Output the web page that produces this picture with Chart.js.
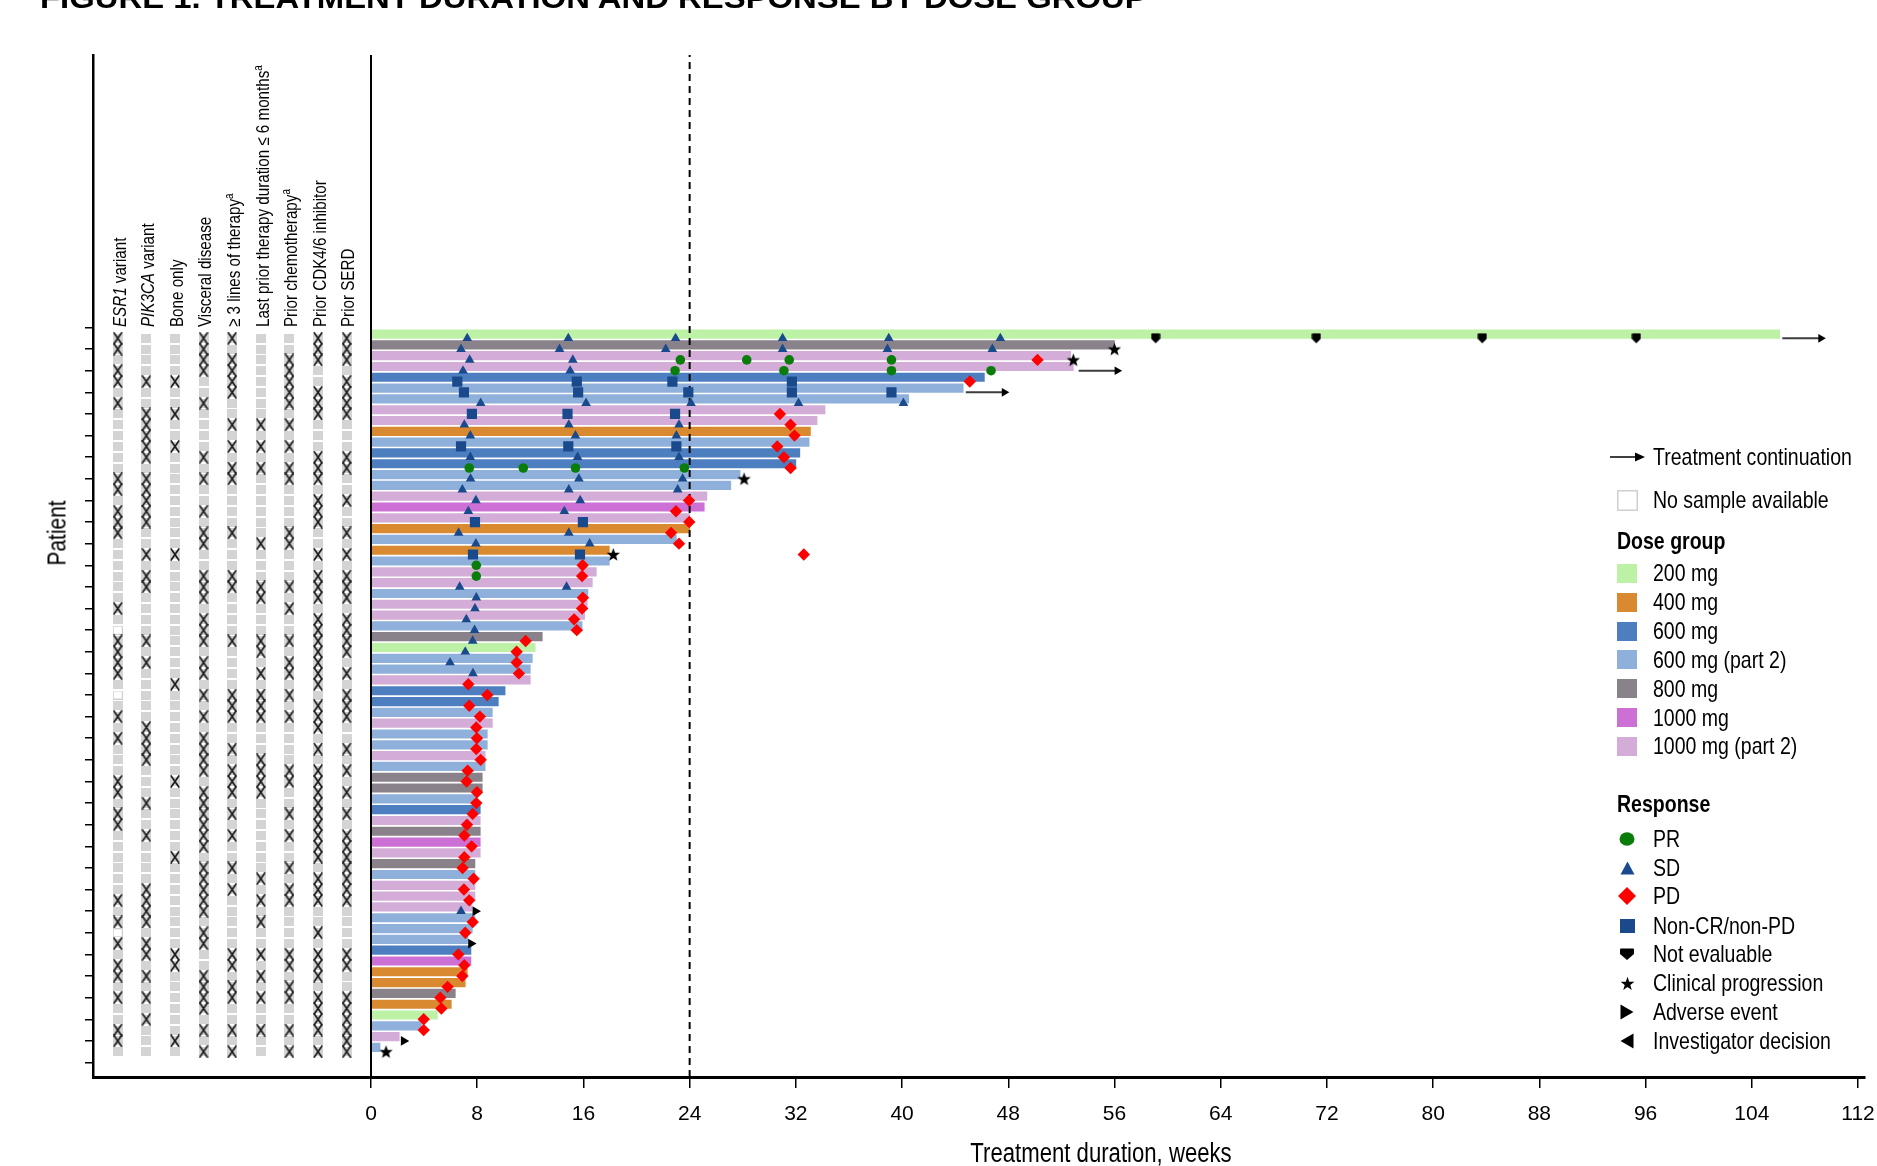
<!DOCTYPE html>
<html>
<head>
<meta charset="utf-8">
<script src="https://cdn.jsdelivr.net/npm/chart.js@4.4.0/dist/chart.umd.min.js"></script>
<style>
  html, body { margin: 0; padding: 0; background: #fff; }
  body { width: 1877px; height: 1166px; position: relative; overflow: hidden;
         font-family: "Liberation Sans", Arial, sans-serif; color: #000; }
  #chart { position: absolute; left: 0; top: 0; }
  .abs { position: absolute; white-space: nowrap; }
  #title { left: 40px; top: -17px; font-weight: bold; font-size: 30px; line-height: 30px; transform-origin: left top; }
  /* the figure uses a narrow face: Liberation Sans squeezed to 82 % */
  .colhead { font-size: 18.5px; line-height: 20px; transform: rotate(-90deg) scaleX(0.82); transform-origin: left top; }
  .colhead sup { font-size: 12px; vertical-align: 7px; line-height: 0; }
  .leg { font-size: 23.8px; line-height: 28px; transform: scaleX(0.82); transform-origin: left center; }
  #patient { left: 57px; top: 533px; font-size: 25.5px; transform: translate(-50%, -50%) rotate(-90deg) scaleX(0.82); }
  #xtitle { left: 1101px; top: 1153px; font-size: 27px; transform: translate(-50%, -50%) scaleX(0.82); }
</style>
</head>
<body>
<canvas id="chart" width="1877" height="1166"></canvas>
<div id="title" class="abs">FIGURE 1. TREATMENT DURATION AND RESPONSE BY DOSE GROUP</div>
<div id="patient" class="abs">Patient</div>
<div id="xtitle" class="abs">Treatment duration, weeks</div>
<script>
// ================= DATA =================
const doseGroups = ['200 mg', '400 mg', '600 mg', '600 mg (part 2)', '800 mg', '1000 mg', '1000 mg (part 2)'];

// dose group (index into doseGroups) per patient, top to bottom
const patientDose = [0,4,6,6,2,3,3,6,6,1, 3,2,2,3,3,6,5,6,1,3,
                     1,3,6,6,3,6,6,3,4,0, 3,3,6,2,2,3,6,3,3,6,
                     3,4,4,3,2,6,4,5,6,4, 3,6,6,6,3,3,3,2,5,1,
                     1,4,1,0,3,6,3];

// treatment duration, weeks
const durationWeeks = [106.1, 56.0, 52.7, 52.9, 46.2, 44.6, 40.5, 34.2, 33.6, 33.1,
                       33.0, 32.3, 32.0, 27.8, 27.1, 25.3, 25.1, 24.0, 24.0, 23.0,
                       17.95, 17.95, 16.97, 16.67, 16.34, 16.29, 16.09, 15.9, 12.9, 12.37,
                       12.15, 12.0, 12.0, 10.1, 9.59, 9.14, 9.14, 8.76, 8.76, 8.6,
                       8.6, 8.38, 8.38, 8.0, 8.23, 8.23, 8.23, 8.23, 8.23, 7.83,
                       7.83, 7.83, 7.83, 7.6, 7.83, 7.63, 7.3, 7.53, 7.53, 7.25,
                       7.1, 6.35, 6.05, 5.0, 3.8, 2.13, 0.68];

// treatment continuation arrows: [patient, from week, to week]
const continuation = [[0, 106.3, 109.2], [3, 53.3, 56.2], [5, 44.8, 47.7]];

// responses: [patient, week]
const prVisits = [[2,23.3],[2,28.3],[2,31.5],[2,39.2],[3,22.9],[3,31.1],[3,39.2],[3,46.7],
                  [12,7.4],[12,11.47],[12,15.4],[12,23.6],[21,7.93],[22,7.93]];
const sdVisits = [[0,7.25],[0,14.86],[0,22.94],[0,31.0],[0,39.0],[0,47.4],
                  [1,6.78],[1,14.2],[1,22.2],[1,31.0],[1,38.9],[1,46.8],
                  [2,7.43],[2,15.2],[3,6.93],[3,15.0],
                  [6,8.26],[6,16.2],[6,24.1],[6,32.2],[6,40.1],
                  [8,7.03],[8,14.9],[8,23.2],[9,7.48],[9,15.4],[9,23.0],
                  [11,7.48],[11,15.56],[11,23.2],[13,7.5],[13,15.66],[13,23.47],
                  [14,6.88],[14,14.9],[14,23.1],[15,7.9],[15,15.76],[16,7.33],[16,14.56],
                  [18,6.6],[18,14.9],[19,7.9],[19,16.47],[23,6.68],[23,14.73],
                  [24,7.93],[25,7.83],[26,7.18],[27,7.8],[28,7.66],[29,7.1],[30,5.95],[31,7.68],
                  [53,6.78]];
const pdVisits = [[2,50.2],[4,45.1],[7,30.8],[8,31.6],[9,31.9],[10,30.6],[11,31.1],[12,31.6],
                  [15,23.95],[16,22.97],[17,23.97],[18,22.6],[19,23.2],[20,32.6],
                  [21,15.94],[22,15.9],[24,15.96],[25,15.9],[26,15.3],[27,15.5],[28,11.65],[29,10.97],
                  [30,10.97],[31,11.14],[32,7.33],[33,8.76],[34,7.4],[35,8.2],[36,7.93],[37,7.98],
                  [38,7.93],[39,8.26],[40,7.28],[41,7.2],[42,7.98],[43,7.93],[44,7.66],[45,7.23],
                  [46,7.03],[47,7.58],[48,7.03],[49,6.9],[50,7.73],[51,7.0],[52,7.4],[54,7.66],
                  [55,7.1],[57,6.58],[58,7.03],[59,6.88],[60,5.77],[61,5.22],[62,5.3],[63,3.97],[64,3.97]];
const nonCrNonPdVisits = [[4,6.5],[4,15.5],[4,22.7],[4,31.7],[5,7.0],[5,15.6],[5,23.9],[5,31.7],[5,39.2],
                          [7,7.6],[7,14.8],[7,22.9],[10,6.78],[10,14.86],[10,23.0],
                          [17,7.83],[17,15.96],[20,7.68],[20,15.74]];
const notEvaluableVisits = [[0,59.1],[0,71.2],[0,83.7],[0,95.3]];
const clinicalProgression = [[1,56.0],[2,52.9],[13,28.1],[20,18.25],[66,1.13]];
const adverseEvent = [[53,7.86],[56,7.53],[65,2.46]];

// baseline characteristics: patients flagged in each column
const esr1Variant = [0,1,3,4,6,13,14,16,17,18,25,28,29,30,31,35,37,41,42,44,45,52,54,56,58,59,61,64,65];
const pik3caVariant = [4,7,8,9,10,11,13,14,15,16,17,20,22,23,28,30,36,37,38,39,43,46,51,52,53,54,56,57,59,61,63];
const boneOnly = [4,7,10,20,32,41,48,57,58,65];
const visceralDisease = [0,1,2,3,6,11,13,16,18,19,22,23,24,26,27,28,30,31,33,35,37,38,39,40,42,43,44,45,46,47,49,50,51,52,53,55,56,59,60,61,62,64,66];
const threePlusLines = [0,2,3,4,5,8,10,12,13,18,22,23,28,33,34,35,38,40,41,42,44,46,49,51,57,58,60,61,64,66];
const lastTherapy6m = [8,10,12,19,23,24,28,29,31,33,34,35,39,40,41,42,50,52,54,57,59,61,64];
const priorChemo = [2,3,4,5,6,8,10,12,13,18,19,23,25,28,30,31,33,35,40,41,44,46,49,51,52,57,58,60,61,64,66];
const priorCdk46 = [0,1,2,5,6,7,11,12,13,15,16,17,20,22,23,24,26,27,28,29,30,31,32,34,35,36,38,40,41,42,43,44,45,46,47,48,50,51,52,55,57,58,59,61,62,63,64,66];
const priorSerd = [0,1,2,4,5,6,7,11,12,15,18,20,22,23,24,26,27,28,29,31,33,34,35,38,40,42,44,46,47,48,49,50,51,52,57,58,61,62,63,64,65,66];
const esr1NoSample = [27,33,55];

const featureLabels = ['<i>ESR1</i> variant', '<i>PIK3CA</i> variant', 'Bone only', 'Visceral disease',
                       '&ge; 3 lines of therapy<sup>a</sup>', 'Last prior therapy duration &le; 6 months<sup>a</sup>',
                       'Prior chemotherapy<sup>a</sup>', 'Prior CDK4/6 inhibitor', 'Prior SERD'];

const weekTicks = [0, 8, 16, 24, 32, 40, 48, 56, 64, 72, 80, 88, 96, 104, 112];
const landmarkWeek = 24;

const responseLabels = ['PR', 'SD', 'PD', 'Non-CR/non-PD', 'Not evaluable', 'Clinical progression', 'Adverse event', 'Investigator decision'];

// ================= STYLE / LAYOUT =================
const doseColors = ['#bdf1a6', '#d98a30', '#4c7ec0', '#8fb0da', '#8a828a', '#cc70d6', '#d4acd8'];
const blue = '#1a4a8c';

// pixel anchors on the page
const WEEK0_PX = 371, WEEK112_PX = 1858;     // x of week 0 and week 112
const ROW0_PX = 338.3, ROWLAST_PX = 1051.7;  // y of first and last patient row
const COL0_PX = 117.7, COL_STEP = 28.62;     // feature columns

const nPatients = durationWeeks.length;
const features = [esr1Variant, pik3caVariant, boneOnly, visceralDisease, threePlusLines,
                  lastTherapy6m, priorChemo, priorCdk46, priorSerd];

// ------------------- POINT SHAPES -------------------
function mk(w, h, draw) {
  const c = document.createElement('canvas');
  c.width = w; c.height = h;
  draw(c.getContext('2d'), w, h);
  return c;
}
const xMark = mk(10, 13, (g, w, h) => {
  g.strokeStyle = '#1c1c1c'; g.lineWidth = 1.7; g.lineCap = 'round';
  g.beginPath(); g.moveTo(1.2, 1); g.lineTo(w - 1.2, h - 1); g.moveTo(w - 1.2, 1); g.lineTo(1.2, h - 1); g.stroke();
});
const cellGrey = mk(10, 9, g => { g.fillStyle = '#d4d4d4'; g.fillRect(0, 0, 10, 9); });
const cellEmpty = mk(10, 9, g => { g.fillStyle = '#fff'; g.fillRect(0, 0, 10, 9); g.strokeStyle = '#cfcfcf'; g.strokeRect(0.5, 0.5, 9, 8); });
function starPath(g, cx, cy, ro, ri) {
  g.beginPath();
  for (let k = 0; k < 10; k++) {
    const r = k % 2 ? ri : ro, a = -Math.PI / 2 + k * Math.PI / 5;
    g.lineTo(cx + r * Math.cos(a), cy + r * Math.sin(a));
  }
  g.closePath();
}
const starImg = mk(15, 15, g => { g.fillStyle = '#000'; starPath(g, 7.5, 8, 7, 2.9); g.fill(); });
const shieldImg = mk(10, 11, g => {
  g.fillStyle = '#000'; g.beginPath();
  g.moveTo(0.5, 1.5); g.quadraticCurveTo(0.5, 0.5, 1.5, 0.5); g.lineTo(8.5, 0.5); g.quadraticCurveTo(9.5, 0.5, 9.5, 1.5);
  g.lineTo(9.5, 6); g.lineTo(5, 10.5); g.lineTo(0.5, 6); g.closePath(); g.fill();
});

// ------------------- DATASETS -------------------
const pts = list => list.map(([p, w]) => ({ x: w, y: p }));
function markerSet(list, style, radius, color, extra) {
  return Object.assign({
    type: 'scatter', data: pts(list), pointStyle: style, pointRadius: radius,
    pointBackgroundColor: color, pointBorderColor: color, pointBorderWidth: 0, order: 0
  }, extra || {});
}

const cellPts = [], markPts = [], emptyPts = [];
features.forEach((rows, j) => {
  for (let p = 0; p < nPatients; p++) {
    if (j === 0 && esr1NoSample.includes(p)) emptyPts.push({ x: j, y: p });
    else cellPts.push({ x: j, y: p });
  }
  rows.forEach(p => markPts.push({ x: j, y: p }));
});

const datasets = [
  markerSet(prVisits, 'circle', 4.8, '#0a7c0a'),
  markerSet(sdVisits, 'triangle', 5.6, blue),
  markerSet(pdVisits, 'rectRot', 6.2, '#ff0000'),
  markerSet(nonCrNonPdVisits, 'rect', 7.2, blue),
  markerSet(notEvaluableVisits, shieldImg, 5, '#000'),
  markerSet(clinicalProgression, starImg, 5, '#000'),
  markerSet(adverseEvent, 'triangle', 5.6, '#000', { pointRotation: 90 }),
  { type: 'scatter', xAxisID: 'xf', data: markPts, pointStyle: xMark, pointRadius: 5, order: 0 },
  { type: 'scatter', xAxisID: 'xf', data: cellPts, pointStyle: cellGrey, pointRadius: 5, order: 6 },
  { type: 'scatter', xAxisID: 'xf', data: emptyPts, pointStyle: cellEmpty, pointRadius: 5, order: 6 },
  {
    type: 'line', data: [{ x: landmarkWeek, y: -40 }, { x: landmarkWeek, y: 80 }],
    borderColor: '#000', borderWidth: 2, borderDash: [7, 5], pointRadius: 0, order: 2, clip: 0
  },
  {
    type: 'line', data: [{ x: 0, y: -40 }, { x: 0, y: 80 }],
    borderColor: '#000', borderWidth: 2, pointRadius: 0, order: 3, clip: 0
  },
  {
    type: 'bar', indexAxis: 'y', order: 4,
    data: durationWeeks.map((d, i) => ({ x: [0, d], y: i })),
    backgroundColor: patientDose.map(g => doseColors[g]),
    barThickness: 8.5, borderWidth: 0
  }
];
continuation.forEach(([p, a, b]) => datasets.push({
  type: 'line', data: [{ x: a, y: p }, { x: b, y: p }], borderColor: '#3c3c3c', borderWidth: 2,
  pointRadius: [0, 5], pointStyle: 'triangle', pointRotation: 90,
  pointBackgroundColor: '#000', pointBorderWidth: 0, order: 1
}));

// once the plot area is known, set each scale's range so the anchors land on their pixels
const pinScales = {
  id: 'pinScales',
  afterLayout(chart) {
    const { x, xf, y } = chart.scales;
    const kx = (WEEK112_PX - WEEK0_PX) / 112;
    x.min = (x.left - WEEK0_PX) / kx;
    x.max = (x.right - WEEK0_PX) / kx;
    x.configure();
    xf.min = (xf.left - COL0_PX) / COL_STEP;
    xf.max = (xf.right - COL0_PX) / COL_STEP;
    xf.configure();
    const ky = (ROWLAST_PX - ROW0_PX) / (nPatients - 1);
    y.min = (y.top - ROW0_PX) / ky;
    y.max = (y.bottom - ROW0_PX) / ky;
    y.configure();
  }
};

// ------------------- CHART -------------------
new Chart(document.getElementById('chart'), {
  type: 'scatter',
  data: { datasets },
  plugins: [pinScales],
  options: {
    responsive: false, animation: false, events: [],
    layout: { padding: { left: 85, top: 55, right: 0, bottom: 0 } },
    plugins: { legend: { display: false }, tooltip: { enabled: false } },
    scales: {
      x: {
        type: 'linear', position: 'bottom', min: -21, max: 113.4, offset: false,
        afterBuildTicks: s => { s.ticks = weekTicks.map(v => ({ value: v })); },
        afterFit: s => { s.height = 89; },
        ticks: { font: { family: 'Liberation Sans', size: 21 }, color: '#000', padding: 14, maxRotation: 0, autoSkip: false },
        grid: { drawOnChartArea: false, drawTicks: true, tickLength: 11, color: '#000', lineWidth: 1.5 },
        border: { display: true, color: '#000', width: 3 }
      },
      xf: { type: 'linear', axis: 'x', position: 'bottom', display: false, min: -0.86, max: 61.5 },
      y: {
        type: 'linear', position: 'left', reverse: true, min: -26.2, max: 68.3, offset: false,
        afterBuildTicks: s => { s.ticks = durationWeeks.map((d, i) => ({ value: i })); },
        afterFit: s => { s.width = 8; },
        ticks: { callback: () => '', padding: 0 },
        grid: { drawOnChartArea: false, drawTicks: true, tickLength: 8, color: '#000', lineWidth: 1.5 },
        border: { display: true, color: '#000', width: 2.5 }
      }
    }
  }
});

// ------------------- TEXT OVERLAYS -------------------
function addDiv(html, cls, css) {
  const d = document.createElement('div');
  d.className = 'abs ' + (cls || '');
  d.innerHTML = html;
  Object.assign(d.style, css);
  document.body.appendChild(d);
  return d;
}
featureLabels.forEach((lab, j) => {
  const cx = COL0_PX + 1.8 + COL_STEP * j;
  addDiv(lab, 'colhead', { left: (cx - 10) + 'px', top: '327px' });
});

// legend
const LX = 1653, IX = 1627;
function legendText(txt, cy, bold) {
  addDiv(txt, 'leg', { left: (bold ? 1617 : LX) + 'px', top: (cy - 14) + 'px', fontWeight: bold ? 'bold' : 'normal' });
}
function legendIcon(svg, cx, cy, w, h) {
  addDiv(`<svg width="${w}" height="${h}" viewBox="0 0 ${w} ${h}">${svg}</svg>`, '',
         { left: (cx - w / 2) + 'px', top: (cy - h / 2) + 'px', lineHeight: '0' });
}
legendIcon('<line x1="0" y1="6" x2="28" y2="6" stroke="#000" stroke-width="1.5"/><polygon points="25,1.5 35,6 25,10.5" fill="#000"/>', 1628, 456.5, 36, 12);
legendText('Treatment continuation', 456.5);
legendIcon('<rect x="0.75" y="0.75" width="19.5" height="19.5" fill="#fff" stroke="#cfcfcf" stroke-width="1.5"/>', IX, 500, 21, 21);
legendText('No sample available', 500);
legendText('Dose group', 541, true);
const doseY = [573, 602, 631, 659.5, 688.5, 717.8, 746];
doseGroups.forEach((g, k) => {
  legendIcon(`<rect x="0" y="0" width="20" height="19" fill="${doseColors[k]}"/>`, IX, doseY[k], 20, 19);
  legendText(g, doseY[k]);
});
legendText('Response', 804, true);
const respY = [839, 868, 896.3, 926, 954.4, 983.3, 1011.8, 1040.7];
const respIcons = [
  ['<ellipse cx="8" cy="7" rx="7.5" ry="6.8" fill="#0a7c0a"/>', 16, 14],
  [`<polygon points="7.5,0.5 14.5,13.5 0.5,13.5" fill="${blue}"/>`, 15, 14],
  ['<polygon points="9,0 18,9 9,18 0,9" fill="#ff0000"/>', 18, 18],
  [`<rect x="0" y="0" width="15" height="14" fill="${blue}"/>`, 15, 14],
  ['<path d="M1,0.5 H13 Q14,0.5 14,1.5 V6 L7,12 L0,6 V1.5 Q0,0.5 1,0.5 Z" fill="#000"/>', 14, 12],
  ['', 15, 15],
  ['<polygon points="0.5,0.5 13.5,8 0.5,15.5" fill="#000"/>', 14, 16],
  ['<polygon points="13.5,0.5 0.5,8 13.5,15.5" fill="#000"/>', 14, 16]
];
respIcons.forEach(([svg, w, h], k) => {
  if (k === 5) {
    const p = [];
    for (let i = 0; i < 10; i++) {
      const r = i % 2 ? 2.9 : 7.3, a = -Math.PI / 2 + i * Math.PI / 5;
      p.push((7.5 + r * Math.cos(a)).toFixed(2) + ',' + (8 + r * Math.sin(a)).toFixed(2));
    }
    svg = `<polygon points="${p.join(' ')}" fill="#000"/>`;
  }
  legendIcon(svg, IX, respY[k], w, h);
  legendText(responseLabels[k], respY[k]);
});

// stretch the title to the width it has in the figure
const title = document.getElementById('title');
title.style.transform = `scaleX(${1107 / title.offsetWidth})`;
</script>
</body>
</html>
